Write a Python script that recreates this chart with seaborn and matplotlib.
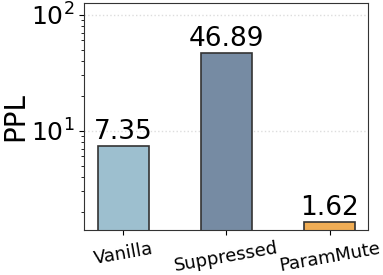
import matplotlib
matplotlib.use('Agg')
import matplotlib.pyplot as plt
import pandas as pd
import seaborn as sns

methods = ['Vanilla', 'Suppressed', 'ParamMute']
ppl = [7.35, 46.89, 1.62]
colors = ['#9dbfcf', '#768ba3', '#f0ad55']

df = pd.DataFrame({'method': methods, 'ppl': ppl})

plt.rcParams['font.family'] = ['DejaVu Sans']

fig, ax = plt.subplots(figsize=(3.83, 2.75), dpi=100)
sns.barplot(data=df, x='method', y='ppl', hue='method', palette=colors,
            width=0.5, edgecolor='#333333', linewidth=1.2, legend=False,
            saturation=1, ax=ax)
ax.set_yscale('log')
ax.set_ylim(1.4, 127)
ax.set_xlim(-0.38, 2.37)

for i, v in enumerate(ppl):
    ax.text(i, v * 1.02, f'{v:.2f}', ha='center', va='bottom', fontsize=19)

ax.yaxis.grid(True, which='major', linestyle=':', color='#dddddd', linewidth=1)
ax.set_axisbelow(True)
ax.set_xlabel('')
ax.set_ylabel('PPL', fontsize=20, labelpad=1)
ax.tick_params(axis='y', labelsize=18)
ax.tick_params(axis='x', labelsize=13, rotation=10)
for s in ax.spines.values():
    s.set_color('#333333')

fig.subplots_adjust(left=0.22, right=0.96, bottom=0.165, top=0.99)
fig.savefig('out.png', dpi=100)
